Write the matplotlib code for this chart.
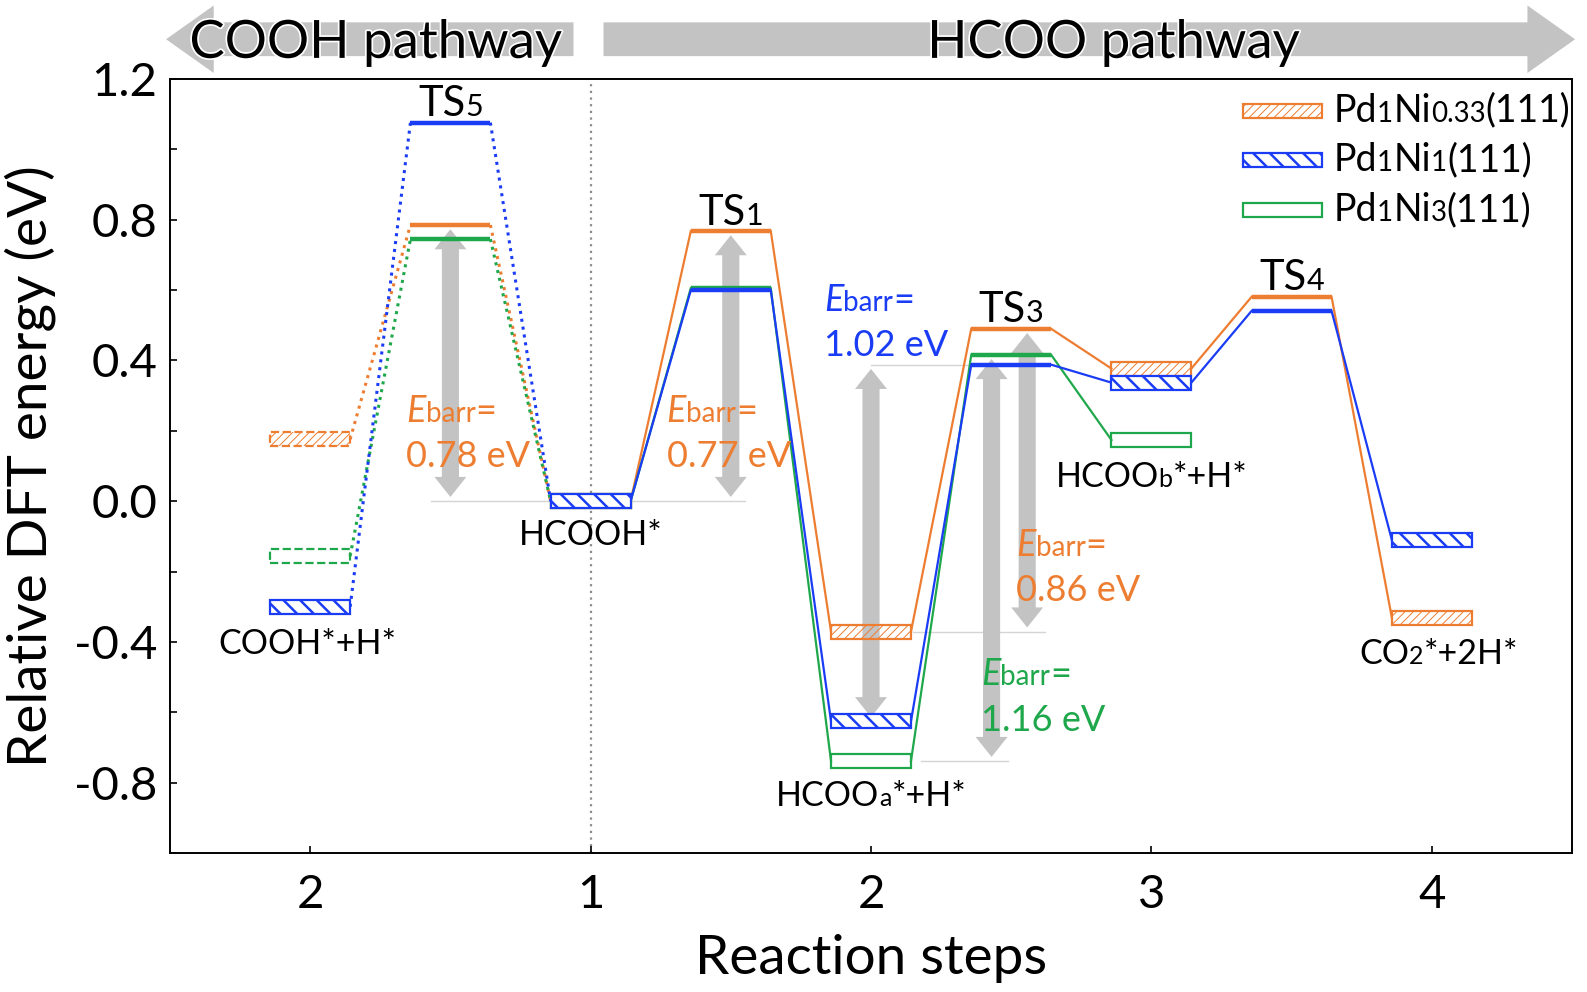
import matplotlib
matplotlib.use('Agg')
import matplotlib.pyplot as plt
import matplotlib.patches as mpatches
import matplotlib.patheffects as pe
from matplotlib.offsetbox import TextArea, HPacker, AnnotationBbox

plt.rcParams['font.family'] = ['Lato', 'DejaVu Sans']

# reaction coordinate: intermediates on integers, transition states halfway
positions = [0, 0.5, 1, 1.5, 2, 2.5, 3, 3.5, 4]
is_ts = [False, True, False, True, False, True, False, True, False]
state_names = ['COOH*+H*', 'TS5', 'HCOOH*', 'TS1', 'HCOOa*+H*', 'TS3', 'HCOOb*+H*', 'TS4', 'CO2*+2H*']
xtick_pos = [0, 1, 2, 3, 4]
xtick_labels = ['2', '1', '2', '3', '4']
ytick_pos = [-0.8, -0.4, 0.0, 0.4, 0.8, 1.2]
ytick_labels = ['-0.8', '-0.4', '0.0', '0.4', '0.8', '1.2']
yminor_pos = [-1.0, -0.6, -0.2, 0.2, 0.6, 1.0]

# relative energies (eV), None = not computed
e_ni033 = [0.176, 0.785, 0.0, 0.768, -0.371, 0.490, 0.377, 0.581, -0.331]
e_ni1 = [-0.300, 1.076, 0.0, 0.600, -0.626, 0.388, 0.337, 0.541, -0.110]
e_ni3 = [-0.156, 0.745, 0.0, 0.606, -0.739, 0.416, 0.174, None, None]

orange = '#ED7D31'
blue = '#1A3CF5'
green = '#1FA84B'
gray = '#C3C3C3'

series = [
    # energies, colour, hatch, hatch lw, face, dashed box in COOH branch
    (e_ni033, orange, '////', 0.7, 'none', True),
    (e_ni3, green, '', 1.0, 'none', True),
    (e_ni1, blue, '\\\\', 1.8, 'white', False),
]

# barriers: (series energies, colour, index low, index high, value text)
barriers = [
    (e_ni033, orange, 2, 1, '0.78 eV'),
    (e_ni033, orange, 2, 3, '0.77 eV'),
    (e_ni1, blue, 4, 5, '1.02 eV'),
    (e_ni3, green, 4, 5, '1.16 eV'),
    (e_ni033, orange, 4, 5, '0.86 eV'),
]
barr_arrow_x = [0.5, 1.5, 2.0, 2.43, 2.557]
barr_text_x = [0.343, 1.271, 1.832, 2.392, 2.518]
barr_text_y = [0.255, 0.255, 0.571, -0.494, -0.126]

hw = 0.1425   # half width of a level
bh = 0.04     # box height

fig = plt.figure(figsize=(15.87, 9.92), dpi=100)
ax = fig.add_axes([170 / 1587, 1 - 853 / 992, 1402 / 1587, 774 / 992])
ax.set_xlim(-0.5, 4.5)
ax.set_ylim(-1.0, 1.2)


def rich(x, y, parts, color='black', ha=0.5, coords='data'):
    boxes = [TextArea(t, textprops=dict(fontsize=s, color=color, fontstyle=st))
             for t, s, st in parts]
    pack = HPacker(children=boxes, align='baseline', pad=0, sep=0)
    ab = AnnotationBbox(pack, (x, y), xycoords=coords, box_alignment=(ha, 0.5),
                        frameon=False, pad=0, annotation_clip=False, zorder=6)
    ax.add_artist(ab)


def level_box(x, y, color, hatch, hlw, face, ls, z=3):
    with plt.rc_context({'hatch.linewidth': hlw}):
        p = mpatches.Rectangle((x - hw, y - bh / 2), 2 * hw, bh, fc=face, ec=color,
                               hatch=hatch, lw=1.6, ls=ls, zorder=z)
    try:
        p.set_hatch_linewidth(hlw)
    except AttributeError:
        pass
    ax.add_patch(p)


def double_arrow(x, y0, y1, shaft=0.061, head=0.114, hl=0.057):
    s, h = shaft / 2, head / 2
    pts = [(x, y0), (x + h, y0 + hl), (x + s, y0 + hl), (x + s, y1 - hl), (x + h, y1 - hl),
           (x, y1), (x - h, y1 - hl), (x - s, y1 - hl), (x - s, y0 + hl), (x - h, y0 + hl)]
    ax.add_patch(mpatches.Polygon(pts, closed=True, fc=gray, ec='none', zorder=1.5))


def path_arrow(x_tail, x_tip, y, body=0.048, head=0.096, hl=0.17):
    d = 1 if x_tip > x_tail else -1
    xb = x_tip - d * hl
    pts = [(x_tail, y - body), (xb, y - body), (xb, y - head), (x_tip, y),
           (xb, y + head), (xb, y + body), (x_tail, y + body)]
    ax.add_patch(mpatches.Polygon(pts, closed=True, fc=gray, ec='none',
                                  clip_on=False, zorder=1))


# divider between the two pathways
ax.axvline(1.0, color='#8C8C8C', ls=(0, (1, 2)), lw=1.6, zorder=1)

# thin reference lines for the barriers
ax.plot([0.43, 1.55], [e_ni033[2]] * 2, color='#D4D4D4', lw=1, zorder=1.2)
ax.plot([2.0, 2.36], [e_ni1[5]] * 2, color='#D4D4D4', lw=1, zorder=1.2)
ax.plot([2.15, 2.62], [e_ni033[4]] * 2, color='#D4D4D4', lw=1, zorder=1.2)
ax.plot([2.18, 2.49], [e_ni3[4]] * 2, color='#D4D4D4', lw=1, zorder=1.2)

# energy levels and connectors
for k, (en, col, hatch, hlw, face, dashed) in enumerate(series):
    z = 3 + k * 0.1
    for i in range(len(positions) - 1):
        if en[i] is None or en[i + 1] is None:
            continue
        x0, x1 = positions[i] + hw, positions[i + 1] - hw
        if positions[i + 1] <= 1:
            ax.plot([x0, x1], [en[i], en[i + 1]], color=col, lw=2.2, ls=(0, (1, 1.6)), zorder=z)
        else:
            ax.plot([x0, x1], [en[i], en[i + 1]], color=col, lw=1.6, zorder=z)
    for i, x in enumerate(positions):
        if en[i] is None:
            continue
        if is_ts[i]:
            ax.plot([x - hw, x + hw], [en[i], en[i]], color=col, lw=3.2,
                    solid_capstyle='butt', zorder=z + 0.05)
        else:
            ls = '--' if (dashed and x < 1) else '-'
            level_box(x, en[i], col, hatch, hlw, face, ls, z=z + 0.05)

# barrier arrows and labels
for j, (en, col, lo, hi, txt) in enumerate(barriers):
    double_arrow(barr_arrow_x[j], en[lo] + 0.012, en[hi] - 0.012)
    rich(barr_text_x[j], barr_text_y[j],
         [('E', 26, 'italic'), ('barr', 20, 'normal'), ('=', 26, 'normal')], color=col, ha=0)
    ax.text(barr_text_x[j], barr_text_y[j] - 0.129, txt, color=col, fontsize=26,
            ha='left', va='center', zorder=6)

# transition state labels
all_series = [e_ni033, e_ni1, e_ni3]
for i, x in enumerate(positions):
    if is_ts[i]:
        top = max(s[i] for s in all_series if s[i] is not None)
        rich(x, top + 0.052, [(state_names[i][:2], 30, 'normal'), (state_names[i][2:], 22, 'normal')])

# intermediate labels
rich(-0.01, -0.405, [('COOH*+H*', 24.5, 'normal')])
rich(1.0, -0.095, [('HCOOH*', 24.5, 'normal')])
rich(2.0, -0.838, [('HCOO', 24.5, 'normal'), ('a', 18, 'normal'), ('*+H*', 24.5, 'normal')])
rich(3.0, 0.069, [('HCOO', 24.5, 'normal'), ('b', 18, 'normal'), ('*+H*', 24.5, 'normal')])
rich(4.025, -0.433, [('CO', 24.5, 'normal'), ('2', 18, 'normal'), ('*+2H*', 24.5, 'normal')])

# pathway banners above the frame
path_arrow(0.939, -0.514, 1.313)
path_arrow(1.046, 4.511, 1.313)
halo = [pe.withStroke(linewidth=2.5, foreground='white')]
ax.text(0.234, 1.26, 'COOH pathway', fontsize=38, ha='center', va='baseline',
        path_effects=halo, clip_on=False, zorder=6)
ax.text(2.865, 1.26, 'HCOO pathway', fontsize=38, ha='center', va='baseline',
        path_effects=halo, clip_on=False, zorder=6)

# legend drawn by hand (labels carry inline subscripts)
leg_y = [0.959, 0.895, 0.831]
leg_parts = [
    [('Pd', 27, 'normal'), ('1', 20, 'normal'), ('Ni', 27, 'normal'), ('0.33', 20, 'normal'), ('(111)', 27, 'normal')],
    [('Pd', 27, 'normal'), ('1', 20, 'normal'), ('Ni', 27, 'normal'), ('1', 20, 'normal'), ('(111)', 27, 'normal')],
    [('Pd', 27, 'normal'), ('1', 20, 'normal'), ('Ni', 27, 'normal'), ('3', 20, 'normal'), ('(111)', 27, 'normal')],
]
leg_style = [(orange, '////', 0.7, 'white'), (blue, '\\\\', 1.8, 'white'), (green, '', 1.0, 'white')]
for y, parts, (col, hatch, hlw, face) in zip(leg_y, leg_parts, leg_style):
    with plt.rc_context({'hatch.linewidth': hlw}):
        p = mpatches.Rectangle((0.765, y - 0.009), 0.057, 0.018, transform=ax.transAxes,
                               fc=face, ec=col, hatch=hatch, lw=1.6, zorder=5)
    try:
        p.set_hatch_linewidth(hlw)
    except AttributeError:
        pass
    ax.add_patch(p)
    rich(0.830, y, parts, ha=0, coords='axes fraction')

# axes styling
ax.set_xticks(xtick_pos, xtick_labels)
ax.set_yticks(ytick_pos, ytick_labels)
ax.set_yticks(yminor_pos, minor=True)
ax.tick_params(which='both', direction='in', length=5, width=1.2, labelsize=34, pad=9)
ax.tick_params(axis='x', pad=15)
for sp in ax.spines.values():
    sp.set_linewidth(1.4)
ax.set_ylabel('Relative DFT energy (eV)', fontsize=39.5)
ax.set_xlabel('Reaction steps', fontsize=39.5)
ax.yaxis.set_label_coords(-0.081, 0.5)
ax.xaxis.set_label_coords(0.5, -0.105)

fig.savefig('out.png', dpi=100)
